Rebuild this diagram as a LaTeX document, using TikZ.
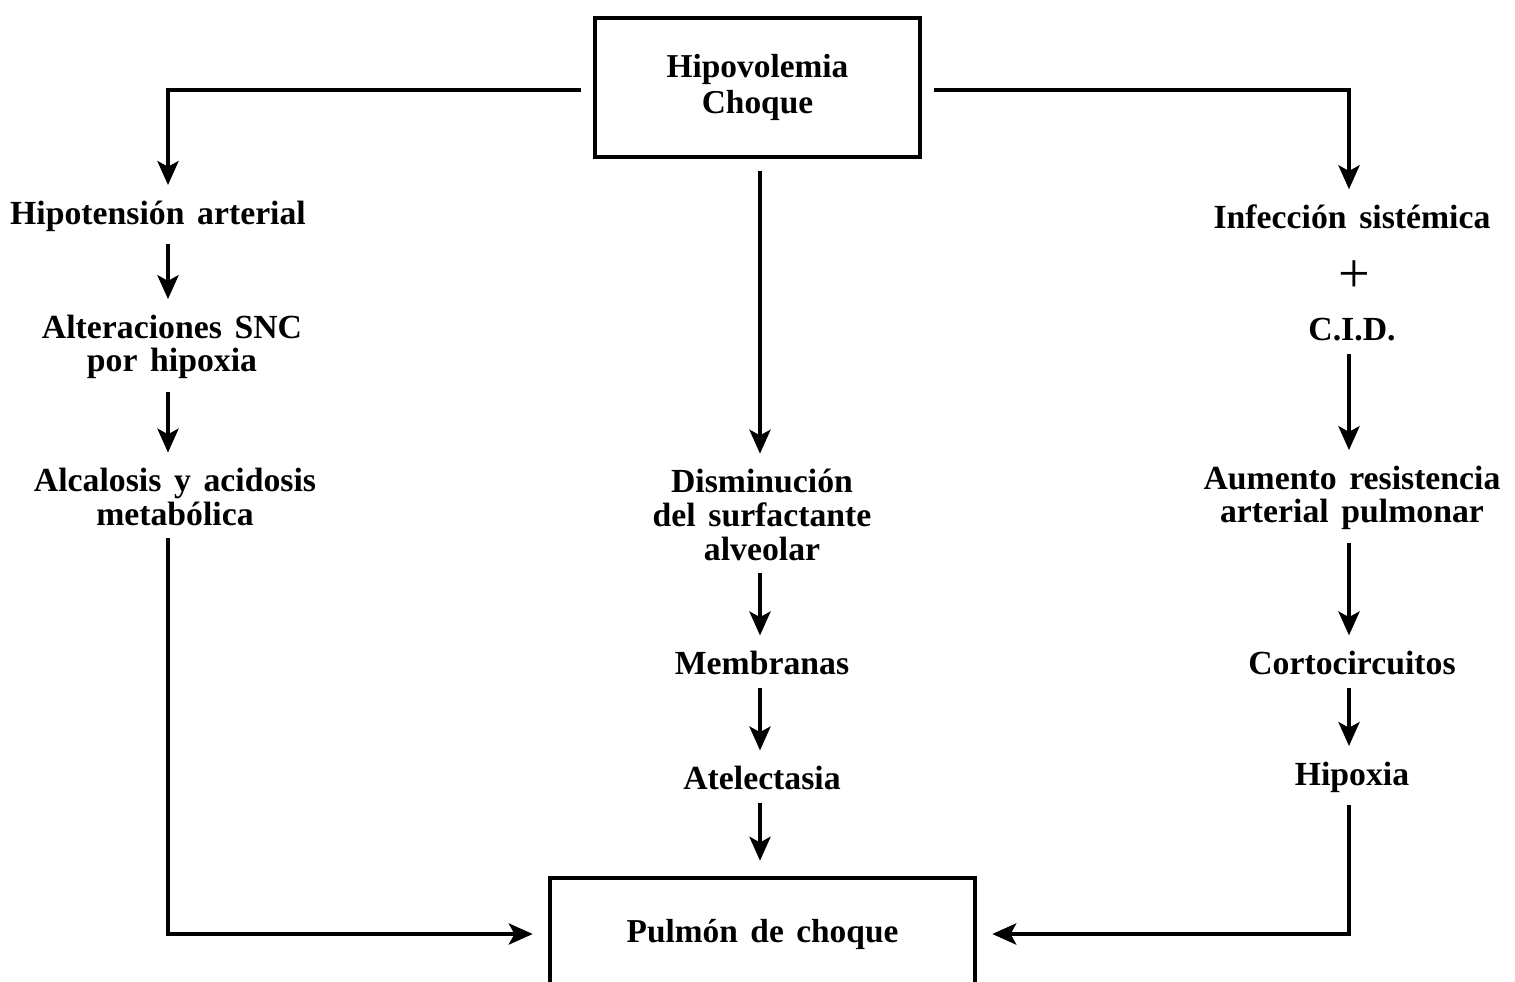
\documentclass[tikz,border=0pt]{standalone}
\usepackage{fontspec}
\setmainfont{Liberation Serif}[WordSpace=1.5]
\usetikzlibrary{arrows.meta}

\begin{document}
\begin{tikzpicture}[
			caja/.style={draw=black, line width=1.3pt,
				align=center, inner sep=0pt,
				font=\fontsize{9.5}{10}\selectfont\bfseries},
			texto/.style={align=center, inner sep=0pt,
				font=\fontsize{9.6}{9.6}\selectfont\bfseries},
			linea/.style={line width=1.1pt, black,
				shorten <=0.12cm},
			flecha/.style={linea, shorten >=0.15cm,
				-{Stealth[length=6.8pt, width=6pt, inset=1.6pt]}},
			]
			\useasboundingbox (0,0) rectangle (15.15,-9.81);
			
			% cajas
			\node[caja, minimum width=3.25cm, minimum height=1.39cm]
			(hipov) at (7.575,-0.875) {Hipovolemia\\Choque};
			\node[caja, minimum width=4.25cm, minimum height=1.12cm]
			(pulmon) at (7.625,-9.34) {Pulmón de choque};
			
			% columna izquierda
			\coordinate (colL) at (1.68,0);
			\node[texto] (hipot) at (1.58,-2.16) {Hipotensión arterial};
			\node[texto] (alter) at (1.72,-3.47) {Alteraciones SNC\\por hipoxia};
			\node[texto] (alcal) at (1.75,-4.97) {Alcalosis y acidosis\\metabólica};
			
			% columna central
			\coordinate (colC) at (7.60,0);
			\node[texto] (dismi) at (7.62,-5.15) {Disminución\\del surfactante\\alveolar};
			\node[texto] (membr) at (7.62,-6.63) {Membranas};
			\node[texto] (atele) at (7.62,-7.78) {Atelectasia};
			
			% columna derecha
			\coordinate (colR) at (13.49,0);
			\node[texto] (infec) at (13.52,-2.17) {Infección sistémica};
			\node[texto, font=\fontsize{16}{16}\selectfont]
			(mas) at (13.54,-2.77) {+};
			\node[texto] (cid)   at (13.52,-3.30) {C.I.D.};
			\node[texto] (aumen) at (13.52,-4.98) {Aumento resistencia\\arterial pulmonar};
			\node[texto] (corto) at (13.52,-6.63) {Cortocircuitos};
			\node[texto] (hipox) at (13.52,-7.77) {Hipoxia};
			
			% flechas
			\draw[flecha] (hipov.west |- 0,-0.90) -| (hipot.north -| colL);
			\draw[flecha] (hipot.south -| colL) -- (alter.north -| colL);
			\draw[flecha] (alter.south -| colL) -- (alcal.north -| colL);
			\draw[flecha] (alcal.south -| colL) |- (pulmon.west);
			
			\draw[flecha] (hipov.south -| colC) -- (dismi.north -| colC);
			\draw[flecha] (dismi.south -| colC) -- (membr.north -| colC);
			\draw[flecha] (membr.south -| colC) -- (atele.north -| colC);
			\draw[flecha] (atele.south -| colC) -- (pulmon.north -| colC);
			
			\draw[flecha] (hipov.east |- 0,-0.90) -| (infec.north -| colR);
			\draw[flecha] (cid.south -| colR) -- (aumen.north -| colR);
			\draw[flecha] (aumen.south -| colR) -- (corto.north -| colR);
			\draw[flecha] (corto.south -| colR) -- (hipox.north -| colR);
			\draw[flecha] (hipox.south -| colR) |- (pulmon.east);
		\end{tikzpicture}
\end{document}
